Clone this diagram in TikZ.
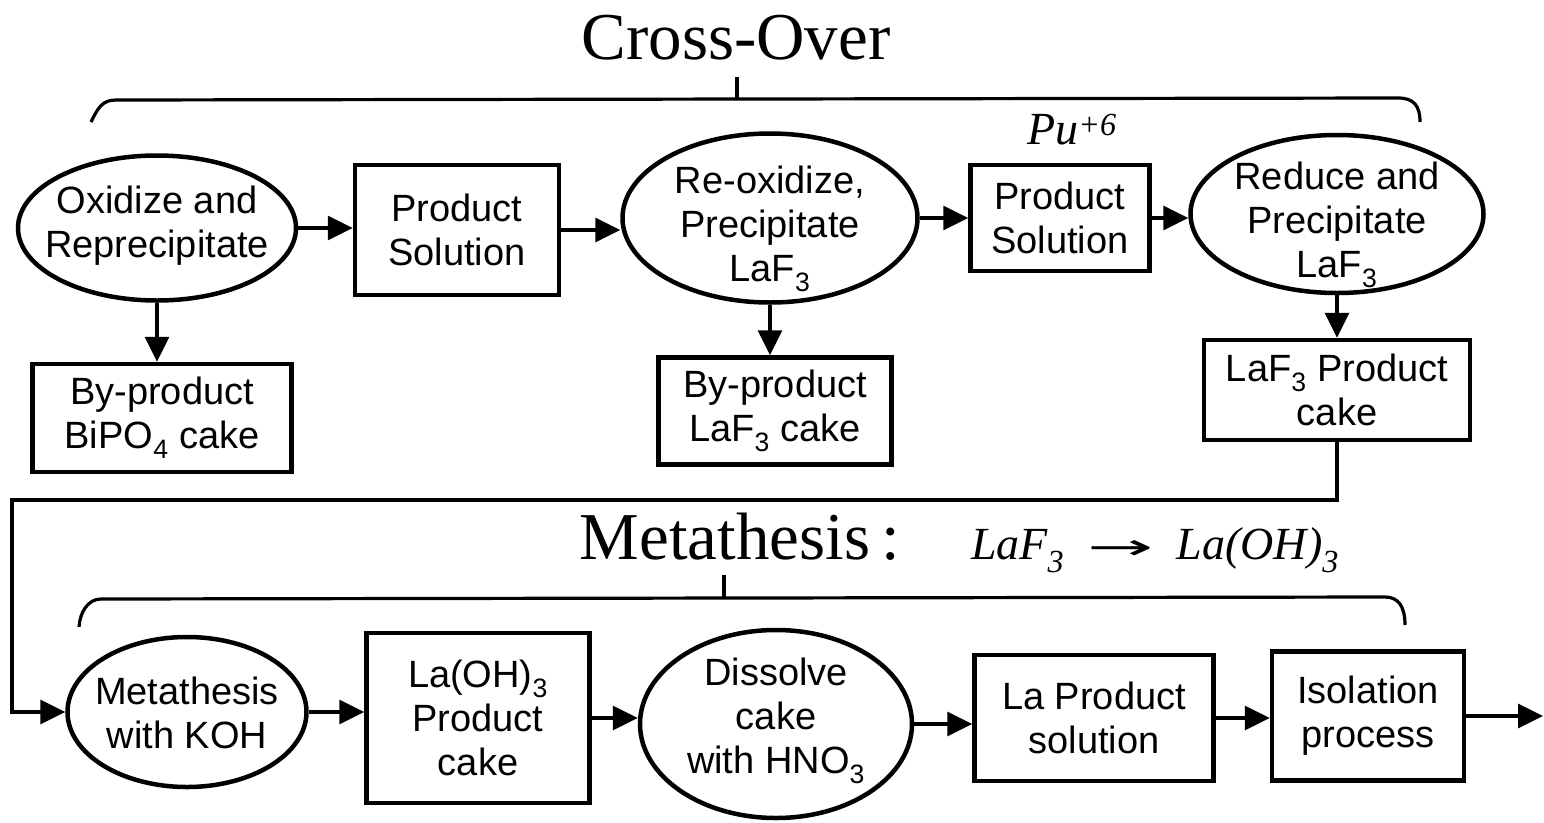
\documentclass[tikz,border=0pt]{standalone}
\usepackage{fontspec}
\usepackage{graphicx}
\setmainfont{Liberation Sans}
\newfontfamily\serifT{Liberation Serif}
\newfontfamily\dejavu{DejaVu Sans}
\usetikzlibrary{shapes.geometric,arrows.meta,calc}
\begin{document}
\begin{tikzpicture}[x=1pt,y=-1pt,
  every node/.style={font=\fontsize{38}{44}\selectfont, align=center},
  box/.style={draw, line width=4.5pt, rectangle, inner sep=0pt},
  oval/.style={draw, line width=4.5pt, ellipse, inner sep=0pt},
  lbl/.style={inner sep=0pt},
  flow/.style={line width=3.2pt, -{Triangle[length=25pt,width=24pt]}},
  brace/.style={line width=3.2pt},
  title/.style={font=\serifT\fontsize{67}{70}\selectfont, inner sep=0pt},
  hand/.style={font=\serifT\itshape\fontsize{46}{50}\selectfont, inner sep=0pt}]
\useasboundingbox (0,0) rectangle (1544,822);
\fill[white] (0,0) rectangle (1544,822);

% titles
\node[title] (t1) at (736,38) {Cross-Over};
\node[title] (t2) at (740,537) {Metathesis\,:};
\node[hand] (h1) at (1155,550) {LaF\textsubscript{3}\enspace{\dejavu\upshape\fontsize{36}{40}\selectfont\scalebox{2.2}[1]{→}}\enspace La(OH)\textsubscript{3}};
\node[hand] (h2) at (1072,130) {Pu\textsuperscript{+6}};

% braces
\draw[brace] (91,122) .. controls (98,108) and (102,100) .. (116,100) -- (1398,98) .. controls (1414,98) and (1420,106) .. (1420,122);
\draw[brace] (737,77) -- (737,99);
\draw[brace] (79,627) .. controls (80,612) and (88,599) .. (101,599) -- (1385,597) .. controls (1398,597) and (1405,606) .. (1405,625);
\draw[brace] (724,575) -- (724,597);

% top row
\node[oval, minimum width=278pt, minimum height=145pt] (e1) at (157,228) {};
\node[lbl] (e1t) at (157,226) {Oxidize and\\Reprecipitate};
\node[box, minimum width=204pt, minimum height=130pt] (b2) at (457,230) {Product\\Solution};
\node[oval, minimum width=295pt, minimum height=169pt] (e3) at (770,218) {};
\node[lbl] (e3t) at (770,229) {Re-oxidize,\\Precipitate\\LaF\textsubscript{3}};
\node[box, minimum width=179pt, minimum height=106pt] (b4) at (1060,218) {Product\\Solution};
\node[oval, minimum width=293pt, minimum height=158pt] (e5) at (1337,214) {};
\node[lbl] (e5t) at (1337,225) {Reduce and\\Precipitate\\LaF\textsubscript{3}};

\node[box, minimum width=259pt, minimum height=108pt] (by1) at (162,418) {By-product\\BiPO\textsubscript{4} cake};
\node[box, minimum width=233pt, minimum height=107pt] (by3) at (775,411) {By-product\\LaF\textsubscript{3} cake};
\node[box, minimum width=266pt, minimum height=100pt] (lp) at (1337,390) {LaF\textsubscript{3} Product\\cake};

% bottom row
\node[oval, minimum width=239pt, minimum height=150pt] (m1) at (187,712) {};
\node[lbl] (m1t) at (187,713) {Metathesis\\with KOH};
\node[box, minimum width=223pt, minimum height=170pt] (b6) at (478,718) {La(OH)\textsubscript{3}\\Product\\cake};
\node[oval, minimum width=272pt, minimum height=188pt] (e7) at (776,724) {};
\node[lbl] (e7t) at (776,721) {Dissolve\\cake\\with HNO\textsubscript{3}};
\node[box, minimum width=239pt, minimum height=126pt] (b8) at (1094,718) {La Product\\solution};
\node[box, minimum width=192pt, minimum height=129pt] (b9) at (1368,716) {Isolation\\process};
\coordinate (out) at (1543,713);
\coordinate (k1) at (12,500);

% connectors
\draw[flow] (e1.east) -- (e1.east -| b2.west);
\draw[flow] (b2.east) -- (b2.east -| e3.west);
\draw[flow] (e3.east) -- (e3.east -| b4.west);
\draw[flow] (b4.east) -- (b4.east -| e5.west);
\draw[flow] (e1.south) -- (e1.south |- by1.north);
\draw[flow] (e3.south) -- (e3.south |- by3.north);
\draw[flow] (e5.south) -- (e5.south |- lp.north);
\draw[flow] (lp.south) |- (k1) |- (m1.west);
\draw[flow] (m1.east) -- (m1.east -| b6.west);
\draw[flow] (b6.east) -- (b6.east -| e7.west);
\draw[flow] (e7.east) -- (e7.east -| b8.west);
\draw[flow] (b8.east) -- (b8.east -| b9.west);
\draw[flow] (b9.east) -- (b9.east -| out);
\end{tikzpicture}
\end{document}
